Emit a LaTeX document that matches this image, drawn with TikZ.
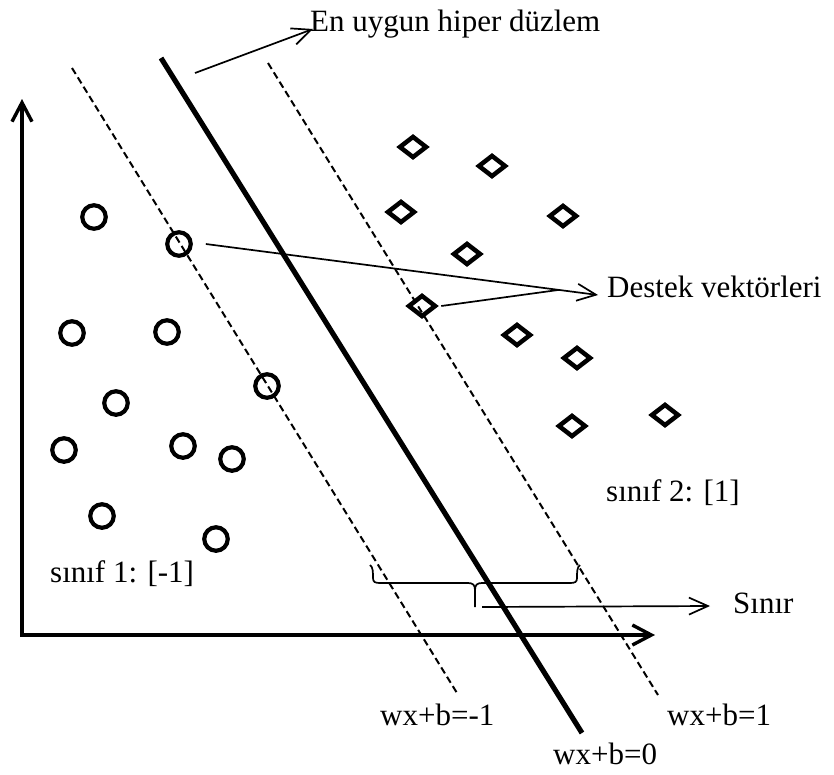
\documentclass[tikz,border=0pt]{standalone}
\usepackage{fontspec}
\setmainfont{Liberation Serif}
\usetikzlibrary{arrows.meta,shapes.geometric,calc}
\begin{document}
\begin{tikzpicture}[x=1pt,y=-1pt,
  circ/.style={circle,draw,line width=4.2pt,minimum size=23.5pt,inner sep=0pt},
  diam/.style={diamond,draw,line width=4.5pt,minimum width=28pt,minimum height=22pt,inner sep=0pt},
  lbl/.style={anchor=base west,inner sep=0pt,font=\fontsize{31}{36}\selectfont},
  axis/.style={line width=3.4pt,{Straight Barb[length=19pt,width=20pt]}-{Straight Barb[length=19pt,width=20pt]}},
  thinarrow/.style={line width=1.7pt,-{Straight Barb[length=19pt,width=17pt]}},
  thinline/.style={line width=1.7pt},
  sep/.style={line width=5.2pt},
  margin/.style={line width=2pt,dash pattern=on 7pt off 4pt},
]
\useasboundingbox (0,0) rectangle (834,774);

% axes
\coordinate (O) at (22,635);
\coordinate (Ytop) at (22,99);
\coordinate (Xend) at (655,635);
\draw[axis] (Ytop) -- (O) -- (Xend);

% separating hyperplane and margins
\coordinate (tA) at (161,58);  \coordinate (tB) at (582,733);
\coordinate (lA) at (72,68);   \coordinate (lB) at (457,693);
\coordinate (rA) at (268,63);  \coordinate (rB) at (658,695);
\draw[sep] (tA) -- (tB);
\draw[margin] (lA) -- (lB);
\draw[margin] (rA) -- (rB);

% class 1 (circles)
\node[circ] (c1) at (94,217) {};
\node[circ] (c2) at (179,244) {};
\node[circ] (c3) at (72,333) {};
\node[circ] (c4) at (167,332) {};
\node[circ] (c5) at (267,386) {};
\node[circ] (c6) at (116,403) {};
\node[circ] (c7) at (64,450) {};
\node[circ] (c8) at (183,446) {};
\node[circ] (c9) at (232,459) {};
\node[circ] (c10) at (102,516) {};
\node[circ] (c11) at (216,539) {};

% class 2 (diamonds)
\node[diam] (d1) at (413,147) {};
\node[diam] (d2) at (492,166) {};
\node[diam] (d3) at (401,212) {};
\node[diam] (d4) at (563,216) {};
\node[diam] (d5) at (467,254) {};
\node[diam] (d6) at (422,306) {};
\node[diam] (d7) at (517,335) {};
\node[diam] (d8) at (577,358) {};
\node[diam] (d9) at (572,426) {};
\node[diam] (d10) at (665,415) {};

% labels
\node[lbl] (hl) at (310,31) {En uygun hiper düzlem};
\node[lbl] (dv) at (607,297) {Destek vektörleri};
\node[lbl] (sn) at (733,613) {Sınır};
\node[lbl] (s1) at (50,582) {sınıf 1: [-1]};
\node[lbl] (s2) at (606,501) {sınıf 2: [1]};
\node[lbl] (lm) at (380,725) {wx+b=-1};
\node[lbl] (lp) at (667,725) {wx+b=1};
\node[lbl] (l0) at (553,764) {wx+b=0};

% arrow to hyperplane label
\coordinate (hs) at (195,73);
\draw[thinarrow] (hs) -- ([shift={(3,-2)}]hl.base west);

% support vector arrows
\coordinate (vs) at ([xshift=13pt]c2.east);
\coordinate (vt) at ([shift={(-9,-2)}]dv.base west);
\draw[thinarrow] (vs) -- (vt);
\coordinate (vj) at ($(vs)!0.9!(vt)$);
\draw[thinline] ([xshift=3pt]d6.east) -- (vj);

% brace
\coordinate (bt) at (475,607);
\draw[thinline] (370,565) .. controls (373,567) and (373,572) .. (373,578)
  .. controls (373,582) and (375,583) .. (380,583) -- (468,583)
  .. controls (473,583) and (475,585) .. (475,590) -- (bt);
\draw[thinline] (475,590) .. controls (475,585) and (477,583) .. (482,583) -- (570,583)
  .. controls (575,583) and (577,582) .. (577,578)
  .. controls (577,572) and (577,567) .. (580,565);
\draw[thinarrow] ([xshift=7pt]bt) -- ([shift={(-23,-7)}]sn.base west);
\end{tikzpicture}
\end{document}
